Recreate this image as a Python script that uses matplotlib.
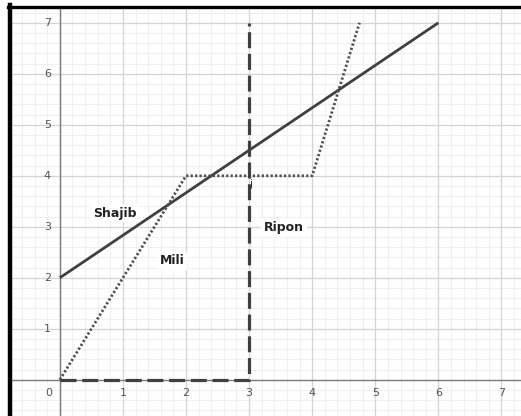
import matplotlib.pyplot as plt
import numpy as np
from matplotlib.lines import Line2D

# line data
shajib_x = [0, 6]
shajib_y = [2, 7]
mili_x = [0, 2, 4, 4.75]
mili_y = [0, 4, 4, 7]
ripon_x = [0, 3, 3]
ripon_y = [0, 0, 7]

x_ticks = [0, 1, 2, 3, 4, 5, 6, 7]
y_ticks = [1, 2, 3, 4, 5, 6, 7]

labels = ["Shajib", "Mili", "Ripon"]
label_pos = [(0.88, 3.27), (1.78, 2.33), (3.55, 2.98)]

fig = plt.figure(figsize=(5.21, 4.16), dpi=100)
ax = fig.add_axes([10/521, 0, 1 - 10/521, 1 - 7/416])
ax.set_xlim(-0.79, 7.31)
ax.set_ylim(-0.71, 7.31)

# grid: minor every 0.2, major every 1
for v in np.arange(-0.8, 7.4, 0.2):
    ax.axvline(v, color='#f0f0f0', lw=0.8, zorder=0)
    ax.axhline(v, color='#f0f0f0', lw=0.8, zorder=0)
for v in x_ticks:
    ax.axvline(v, color='#d4d4d4', lw=0.9, zorder=0.5)
for v in y_ticks:
    ax.axhline(v, color='#d4d4d4', lw=0.9, zorder=0.5)
ax.axvline(0, color='#7a7a7a', lw=1.0, zorder=1)
ax.axhline(0, color='#7a7a7a', lw=1.0, zorder=1)

for spine in ax.spines.values():
    spine.set_visible(False)
ax.set_xticks([])
ax.set_yticks([])

for t in x_ticks:
    dx = -0.18 if t == 0 else 0
    ax.text(t + dx, -0.25, str(t), ha='center', va='center', fontsize=8, color='#555555')
for t in y_ticks:
    ax.text(-0.14, t, str(t), ha='right', va='center', fontsize=8, color='#555555')

ax.plot(shajib_x, shajib_y, color='#404040', lw=2.0, solid_capstyle='butt', zorder=3)
ax.plot(mili_x, mili_y, color='#505050', lw=2.0, linestyle=(0, (0.8, 0.8)), zorder=3)
ax.plot(ripon_x, ripon_y, color='#404040', lw=2.3, linestyle=(0, (5, 1.8)), zorder=3)

for name, (lx, ly) in zip(labels, label_pos):
    ax.text(lx, ly, name, ha='center', va='center', fontsize=9, fontweight='bold',
            color='#222222', zorder=4,
            bbox=dict(facecolor='white', edgecolor='none', pad=2))
ax.text(3.02, 3.84, "j", ha='center', va='center', fontsize=8, color='#333333', zorder=4)

# black frame on the left and top
fig.add_artist(Line2D([9.5/521, 9.5/521], [0, 1 - 5/416], color='black', lw=3.2,
                      transform=fig.transFigure))
fig.add_artist(Line2D([8/521, 1], [1 - 6.5/416, 1 - 6.5/416], color='black', lw=2.4,
                      transform=fig.transFigure))

fig.savefig('out.png', dpi=100)
